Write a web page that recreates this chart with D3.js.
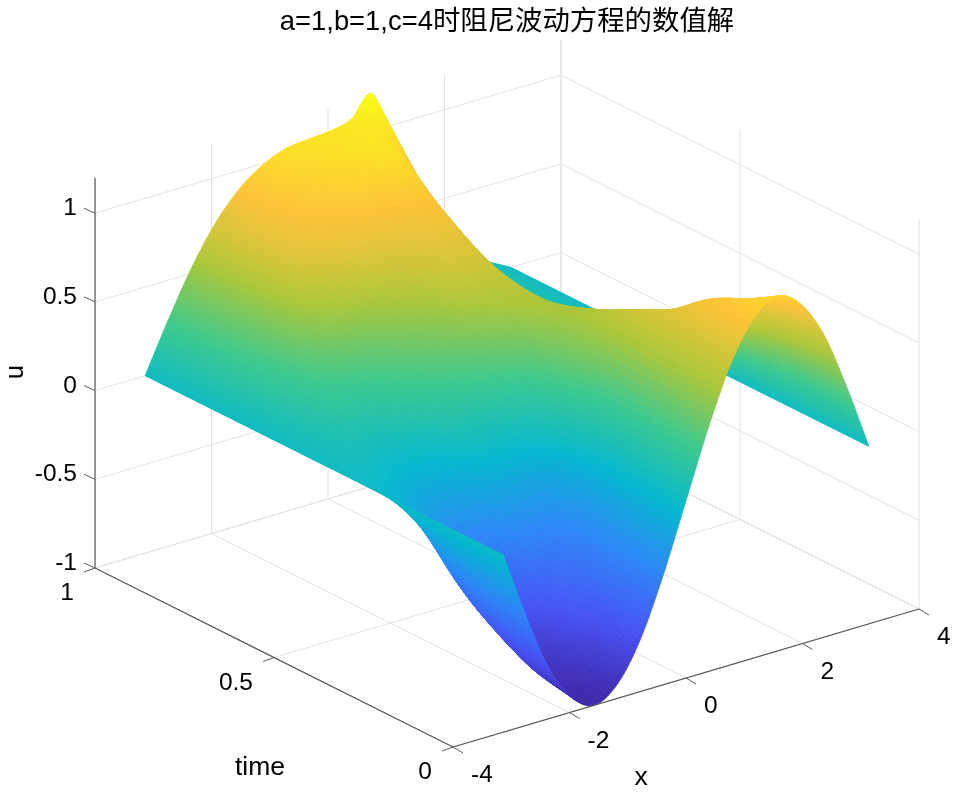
<!DOCTYPE html>
<html><head><meta charset="utf-8">
<style>html,body{margin:0;padding:0;background:#fff}svg{display:block;filter:blur(0.45px)}
text{font-family:"Liberation Sans","Noto Sans CJK SC",sans-serif;fill:#000}</style>
<script src="https://cdn.jsdelivr.net/npm/d3@7"></script></head><body>
<script>
const titleText = "a=1,b=1,c=4时阻尼波动方程的数值解";
const xTicks = [-4,-2,0,2,4], tTicks = [0,0.5,1], zTicks = [-1,-0.5,0,0.5,1];
const xGrid = [-3.14,-2.75,-2.36,-1.96,-1.57,-1.18,-0.79,-0.39,0,0.39,0.79,1.18,1.57,1.96,2.36,2.75,3.14];
const tGrid = [0,0.125,0.25,0.375,0.5,0.625,0.75,0.875,1];
const u000 = [0,-.38,-.71,-.92,-1,-.92,-.71,-.38,0,.38,.71,.92,1,.92,.71,.38,0];
const u125 = [0,-.35,-.66,-.85,-.90,-.76,-.60,-.38,-.06,.30,.68,.88,.84,.74,.58,.35,0];
const u250 = [0,-.24,-.50,-.62,-.64,-.50,-.46,-.36,-.10,.26,.69,.70,.62,.50,.42,.25,0];
const u375 = [0,-.06,-.15,-.20,-.18,-.08,-.08,-.04,.14,.44,.61,.54,.42,.32,.26,.15,0];
const u500 = [0,.05,.05,.06,.13,.22,.30,.40,.50,.60,.53,.42,.33,.22,.16,.08,0];
const u625 = [0,.12,.26,.33,.40,.50,.58,.68,.74,.70,.45,.35,.28,.18,.12,.06,0];
const u750 = [0,.20,.40,.68,.76,.80,.82,.84,.86,.86,.55,.35,.25,.16,.10,.05,0];
const u875 = [0,.24,.48,.76,.86,.92,.96,1.00,1.04,1.05,.85,.60,.30,.17,.10,.05,0];
const u100 = [0,.27,.52,.73,.88,.98,1.04,1.06,1.07,1.10,1.20,.70,.50,.28,.15,.07,0];
const uRows = [u000,u125,u250,u375,u500,u625,u750,u875,u100];
const parulaStops = ["#3e26a8","#4752f4","#2d87f7","#05b8cf","#3cc98f","#abc739","#fec338","#f9fb15"];

const W=957,H=795, ox=453, oy=747;
const xToPx=d3.scaleLinear([-4,4],[0,466]), xToPy=d3.scaleLinear([-4,4],[0,-138]);
const tToPx=d3.scaleLinear([0,1],[0,-358]), tToPy=d3.scaleLinear([0,1],[0,-179]);
const zToPy=d3.scaleLinear([-1,1.2],[0,-390.3]);
const P=(x,t,z)=>[ox+xToPx(x)+tToPx(t), oy+xToPy(x)+tToPy(t)+zToPy(z)];
const color=d3.scaleLinear(parulaStops.map((_,i)=>-1+2.2*i/(parulaStops.length-1)),parulaStops).interpolate(d3.interpolateRgb);

const svg=d3.select("body").append("svg").attr("width",W).attr("height",H);
const gridC="#e2e2e2", axisC="#5a5a5a";
const line=(a,b,c,w)=>svg.append("line").attr("x1",a[0]).attr("y1",a[1]).attr("x2",b[0]).attr("y2",b[1]).attr("stroke",c).attr("stroke-width",w);
const zMax=1.2;
xTicks.forEach(x=>{ line(P(x,0,-1),P(x,1,-1),gridC,1); line(P(x,1,-1),P(x,1,zMax),gridC,1); });
tTicks.forEach(t=>{ line(P(-4,t,-1),P(4,t,-1),gridC,1); line(P(4,t,-1),P(4,t,zMax),gridC,1); });
zTicks.forEach(z=>{ line(P(-4,1,z),P(4,1,z),gridC,1); line(P(4,1,z),P(4,0,z),gridC,1); });

function cr(p0,p1,p2,p3,s){return 0.5*((2*p1)+(-p0+p2)*s+(2*p0-5*p1+4*p2-p3)*s*s+(-p0+3*p1-3*p2+p3)*s*s*s);}
const nc=xGrid.length,nr=tGrid.length;
function atC(row,c){ if(c<0) return 2*row[0]-row[1]; if(c>nc-1) return 2*row[nc-1]-row[nc-2]; return row[c]; }
function cellU(r,c,sr,sc){
  const vals=[-1,0,1,2].map(d=>{
    const q=r+d;
    const f=(row)=>cr(atC(row,c-1),atC(row,c),atC(row,c+1),atC(row,c+2),sc);
    if(q<0) return 2*f(uRows[0])-f(uRows[1]);
    if(q>nr-1) return 2*f(uRows[nr-1])-f(uRows[nr-2]);
    return f(uRows[q]);
  });
  return cr(vals[0],vals[1],vals[2],vals[3],sr);
}
const subX=10,subT=12;
const X=[],T=[];
for(let c=0;c<nc-1;c++)for(let i=0;i<subX;i++)X.push([c,i/subX]);X.push([nc-2,1]);
for(let r=0;r<nr-1;r++)for(let i=0;i<subT;i++)T.push([r,i/subT]);T.push([nr-2,1]);
const xv=X.map(([c,s])=>xGrid[c]+(xGrid[c+1]-xGrid[c])*s), tv=T.map(([r,s])=>tGrid[r]+(tGrid[r+1]-tGrid[r])*s);
const U=T.map(([r,sr])=>X.map(([c,sc])=>cellU(r,c,sr,sc)));
const quads=[];
for(let j=0;j<T.length-1;j++)for(let i=0;i<X.length-1;i++){
  const pts=[[i,j],[i+1,j],[i+1,j+1],[i,j+1]];
  const uAvg=d3.mean(pts,p=>U[p[1]][p[0]]), xA=d3.mean(pts,p=>xv[p[0]]), tA=d3.mean(pts,p=>tv[p[1]]);
  quads.push({d:"M"+pts.map(p=>P(xv[p[0]],tv[p[1]],U[p[1]][p[0]]).map(v=>v.toFixed(1)).join(",")).join("L")+"Z",
    u:uAvg,depth:40*xA+438*tA-75*uAvg});
}
quads.sort((a,b)=>b.depth-a.depth);
svg.append("g").selectAll("path").data(quads).join("path")
  .attr("d",q=>q.d).attr("fill",q=>color(q.u)).attr("stroke",q=>color(q.u)).attr("stroke-width",0.8).attr("stroke-linejoin","round");

line(P(-4,0,-1),P(4,0,-1),axisC,1.2);
line(P(-4,0,-1),P(-4,1,-1),axisC,1.2);
line(P(-4,1,-1),P(-4,1,zMax),axisC,1.2);
const lab=(p,s,size,anchor)=>svg.append("text").attr("x",p[0]).attr("y",p[1]).attr("font-size",size).attr("text-anchor",anchor||"middle").text(s);
xTicks.forEach(x=>{const a=P(x,0,-1);line(a,[a[0]+10,a[1]+6],axisC,1);});
tTicks.forEach(t=>{const a=P(-4,t,-1);line(a,[a[0]-11,a[1]+4],axisC,1);});
zTicks.forEach(z=>{const a=P(-4,1,z);line(a,[a[0]-11,a[1]-5],axisC,1);});
xTicks.forEach(x=>{const a=P(x,0,-1);lab([a[0]+18,a[1]+35],String(x),24.5,"start");});
tTicks.forEach(t=>{const a=P(-4,t,-1);lab([a[0]-21,a[1]+32],String(t),24.5,"end");});
zTicks.forEach(z=>{const a=P(-4,1,z);lab([a[0]-18,a[1]+2],String(z),24.5,"end");});
lab([641,785],"x",26.5);
lab([260,775],"time",26.5);
svg.append("text").attr("transform","translate(23,372) rotate(-90)").attr("text-anchor","middle").attr("font-size",25).text("u");
lab([507,30],titleText,27.4);
</script></body></html>
